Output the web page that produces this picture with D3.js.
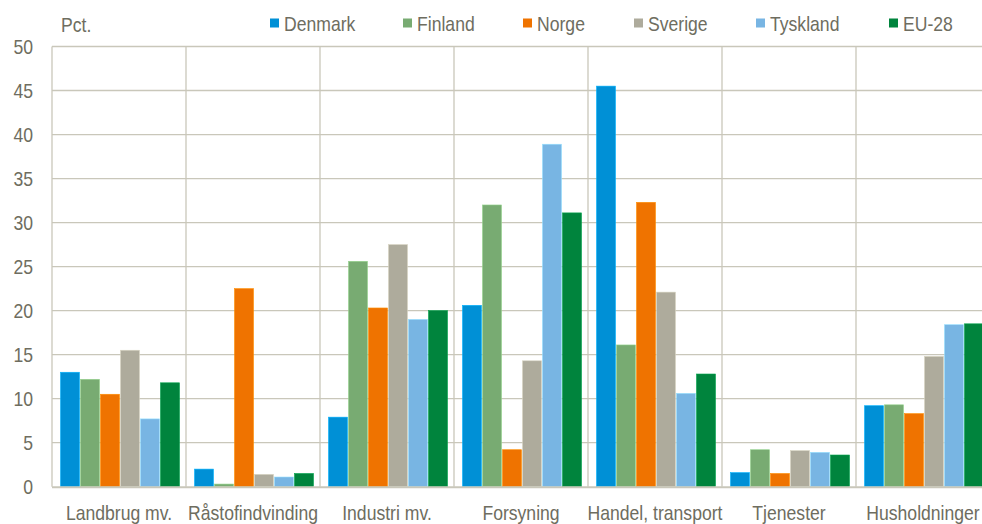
<!DOCTYPE html>
<html><head><meta charset="utf-8">
<script src="https://cdn.jsdelivr.net/npm/d3@7"></script>
<style>
html,body{margin:0;padding:0;background:#fff;overflow:hidden;}
text{font-family:"Liberation Sans",Arial,sans-serif;fill:#6e6d60;}
</style></head>
<body>
<svg id="c" width="982" height="524"></svg>
<script>
const categories = ["Landbrug mv.","Råstofindvinding","Industri mv.","Forsyning","Handel, transport","Tjenester","Husholdninger"];
const seriesNames = ["Denmark","Finland","Norge","Sverige","Tyskland","EU-28"];
const colors = ["#0090d6","#78ab72","#ef7300","#aeab9c","#78b5e3","#00843d"];
const denmark  = [13.0, 2.0, 7.9, 20.6, 45.5, 1.6, 9.2];
const finland  = [12.2, 0.3, 25.6, 32.0, 16.1, 4.2, 9.3];
const norge    = [10.5, 22.5, 20.3, 4.2, 32.3, 1.5, 8.3];
const sverige  = [15.5, 1.4, 27.5, 14.3, 22.1, 4.1, 14.8];
const tyskland = [7.7, 1.1, 19.0, 38.9, 10.6, 3.9, 18.4];
const eu28     = [11.8, 1.5, 20.0, 31.1, 12.8, 3.6, 18.5];
const yTicks = [0,5,10,15,20,25,30,35,40,45,50];
const seriesValues = [denmark, finland, norge, sverige, tyskland, eu28];

const svg = d3.select("#c");
const L = 52, R = 990, T = 46.5, B = 486.7;
const x0 = d3.scaleBand().domain(categories).range([L, R]).paddingInner(0).paddingOuter(0);
const x1 = d3.scaleBand().domain(seriesNames).range([8, x0.bandwidth()-6]).padding(0);
const y = d3.scaleLinear().domain([0,50]).range([B, T]);
const grid = "#c9c7ba";
const SX = 0.88;

function narrow(parent, x, yy, anchor, str, size) {
  return parent.append("text")
    .attr("transform", `translate(${x},${yy}) scale(${SX},1)`)
    .attr("text-anchor", anchor)
    .style("font-size", size + "px")
    .text(str);
}

// horizontal gridlines
svg.append("g").selectAll("line").data(yTicks.filter(d=>d>0)).join("line")
  .attr("x1", L).attr("x2", R).attr("y1", d=>y(d)).attr("y2", d=>y(d))
  .attr("stroke", grid).attr("stroke-width", 1.3);
// vertical gridlines
svg.append("g").selectAll("line").data(categories).join("line")
  .attr("x1", d=>x0(d)).attr("x2", d=>x0(d)).attr("y1", T).attr("y2", B)
  .attr("stroke", grid).attr("stroke-width", 1.3);

// bars
const g = svg.append("g");
categories.forEach((c, ci) => {
  seriesNames.forEach((s, si) => {
    const v = seriesValues[si][ci];
    g.append("rect")
      .attr("x", x0(c) + x1(s) + 0.5)
      .attr("width", x1.bandwidth() - 1)
      .attr("y", y(v))
      .attr("height", B - y(v))
      .attr("fill", colors[si])
      .attr("stroke", d3.color(colors[si]).brighter(0.6))
      .attr("stroke-width", 0.6);
  });
});

// baseline
svg.append("line").attr("x1", L).attr("x2", R).attr("y1", B+0.5).attr("y2", B+0.5)
  .attr("stroke", "#c9c7ba").attr("stroke-width", 2);

// y axis labels
const ya = svg.append("g");
yTicks.forEach(t => narrow(ya, 33, y(t) + 7, "end", String(t), 20));

// x axis labels
const xa = svg.append("g");
categories.forEach(c => narrow(xa, x0(c) + x0.bandwidth()/2, 520, "middle", c, 20));

// Pct.
narrow(svg, 61, 32, "start", "Pct.", 20);

// legend
const legX = [270, 403, 523, 634, 756, 889];
const leg = svg.append("g");
seriesNames.forEach((s, i) => {
  leg.append("rect").attr("x", legX[i]).attr("y", 18.5).attr("width", 9).attr("height", 9).attr("fill", colors[i]);
  narrow(leg, legX[i] + 14, 30.5, "start", s, 20);
});
</script>
</body></html>
